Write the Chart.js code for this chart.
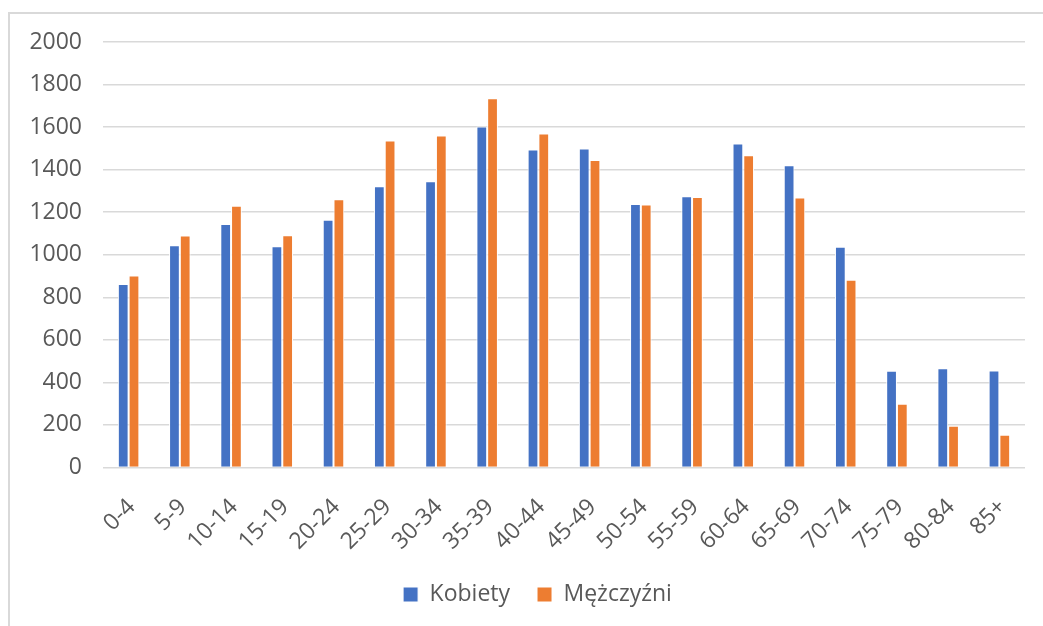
<!DOCTYPE html>
<html>
<head>
<meta charset="utf-8">
<script src="https://cdn.jsdelivr.net/npm/chart.js@4.4.1/dist/chart.umd.min.js"></script>
<style>
  html, body { margin: 0; padding: 0; background: #ffffff; }
  #wrap { position: relative; width: 1043px; height: 626px; overflow: hidden; }
  #frame { position: absolute; left: 8px; top: 12px; width: 1100px; height: 700px;
           border-left: 2px solid #d9d9d9; border-top: 2px solid #d9d9d9; box-sizing: border-box; }
  #c { position: absolute; left: 0; top: 0; }
</style>
</head>
<body>
<div id="wrap">
  <div id="frame"></div>
  <canvas id="c" width="1043" height="626"></canvas>
</div>
<script>
const categories = ["0-4","5-9","10-14","15-19","20-24","25-29","30-34","35-39","40-44","45-49","50-54","55-59","60-64","65-69","70-74","75-79","80-84","85+"];
const kobiety = [862, 1045, 1144, 1040, 1164, 1322, 1346, 1603, 1495, 1500, 1238, 1275, 1523, 1421, 1038, 455, 467, 456];
const mezczyzni = [902, 1090, 1230, 1092, 1261, 1537, 1561, 1736, 1570, 1445, 1236, 1271, 1468, 1269, 883, 300, 196, 154];
const seriesNames = ["Kobiety", "Mężczyźni"];
const yTicks = [0, 200, 400, 600, 800, 1000, 1200, 1400, 1600, 1800, 2000];

const FONT = { family: "'Open Sans', sans-serif", size: 23 };
const TEXT = "#595959";

const shiftLegend = {
  id: "shiftLegend",
  afterLayout(chart) {
    const l = chart.legend;
    if (l) { l.left += 25; l.right += 25; }
  }
};

new Chart(document.getElementById("c"), {
  type: "bar",
  data: {
    labels: categories,
    datasets: [
      { label: seriesNames[0], data: kobiety, backgroundColor: "#4472C4",
        borderColor: "#ffffff", borderWidth: 1, borderSkipped: "bottom" },
      { label: seriesNames[1], data: mezczyzni, backgroundColor: "#ED7D31",
        borderColor: "#ffffff", borderWidth: 1, borderSkipped: "bottom" }
    ]
  },
  plugins: [shiftLegend],
  options: {
    responsive: false,
    animation: false,
    devicePixelRatio: 1,
    layout: { padding: { left: 0, right: 18, top: 42, bottom: 10 } },
    datasets: { bar: { categoryPercentage: 0.42, barPercentage: 1.0 } },
    plugins: {
      tooltip: { enabled: false },
      legend: {
        position: "bottom",
        labels: {
          color: TEXT, font: FONT, boxWidth: 15, boxHeight: 15, padding: 27,
          useBorderRadius: false
        }
      }
    },
    scales: {
      x: {
        grid: { display: false, drawTicks: false },
        border: { display: false },
        ticks: { color: TEXT, font: FONT, minRotation: 45, maxRotation: 45, autoSkip: false,
                 padding: 26, labelOffset: 3 },
        afterFit: (s) => { s.height = 88.5; s.paddingRight = 0; }
      },
      y: {
        min: 0, max: 2000,
        afterBuildTicks: (s) => { s.ticks = yTicks.map(v => ({ value: v })); },
        grid: { color: "#d9d9d9", lineWidth: 1.5, drawTicks: false },
        border: { display: false },
        ticks: { color: TEXT, font: FONT, padding: 21, callback: (v) => String(v) },
        afterFit: (s) => { s.width = 103; }
      }
    }
  }
});
</script>
</body>
</html>
